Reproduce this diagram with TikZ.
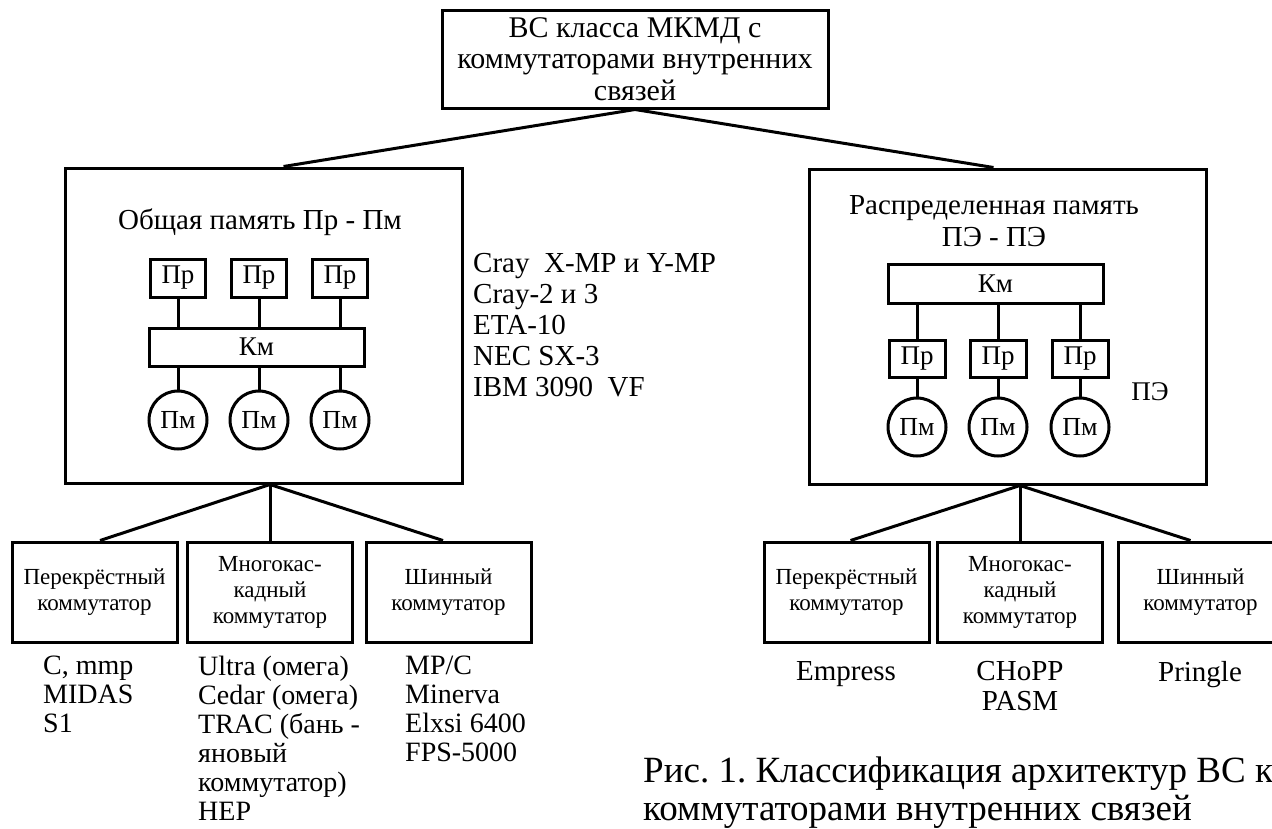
\documentclass[tikz,border=0pt]{standalone}
\usepackage{fontspec}
\setmainfont{Liberation Serif}
\frenchspacing
\begin{document}
\begin{tikzpicture}[x=1pt,y=-1pt,
  box/.style={draw, line width=3pt, inner sep=0pt, align=center},
  circ/.style={draw, circle, line width=3pt, inner sep=0pt, minimum size=58pt, font=\fontsize{26}{28}\selectfont},
  con/.style={line width=3pt},
  big/.style={font=\fontsize{30}{31.5}\selectfont},
  mid/.style={font=\fontsize{29}{32}\selectfont},
  inner/.style={font=\fontsize{27}{30}\selectfont},
  small/.style={font=\fontsize{23}{26}\selectfont},
  lst/.style={align=left, inner sep=0pt, anchor=north west, font=\fontsize{29}{31}\selectfont},
  lowlst/.style={align=left, inner sep=0pt, anchor=north west, font=\fontsize{28}{29}\selectfont},
  lstc/.style={align=center, inner sep=0pt, anchor=north, font=\fontsize{29}{30}\selectfont}
]
\useasboundingbox (0,0) rectangle (1272,828);

% top
\node[box, big, minimum width=386pt, minimum height=98pt] (top) at (635,59)
  {ВС класса МКМД с\\коммутаторами внутренних\\связей};

% main boxes
\node[box, minimum width=397pt, minimum height=315pt] (lbox) at (263.5,325.5) {};
\node[box, minimum width=397pt, minimum height=315pt] (rbox) at (1007.5,326.5) {};

\draw[con] (top.south) -- ([xshift=20pt]lbox.north);
\draw[con] (top.south) -- ([xshift=-14pt]rbox.north);

% left inside
\node[mid, inner sep=0pt] (ltitle) at (260,222) {Общая память Пр - Пм};
\node[box, inner, minimum width=215pt, minimum height=38pt] (lkm) at (256.5,347) {Км};
\foreach \i/\x in {1/178,2/259,3/340}{
  \node[box, inner, minimum width=55pt, minimum height=38pt] (lpr\i) at (\x,278) {Пр};
  \node[circ] (lpm\i) at (\x,420) {Пм};
  \draw[con] (lpr\i.south) -- (lpr\i.south |- lkm.north);
  \draw[con] (lpm\i.north) -- (lpm\i.north |- lkm.south);
}

% list
\node[lst] (cray) at (473,253) {Cray\ \ X-MP и Y-MP\\Cray-2 и 3\\ETA-10\\NEC SX-3\\IBM 3090\ \ VF};

% right inside
\node[mid, align=center, inner sep=0pt] (rtitle) at (994,221) {Распределенная память\\ПЭ - ПЭ};
\node[box, inner, minimum width=215pt, minimum height=39pt] (rkm) at (995.5,283.5) {Км};
\foreach \i/\x in {1/917,2/998,3/1080}{
  \node[box, inner, minimum width=56pt, minimum height=37pt] (rpr\i) at (\x,358.5) {Пр};
  \node[circ] (rpm\i) at (\x,427) {Пм};
  \draw[con] (rpr\i.north) -- (rpr\i.north |- rkm.south);
  \draw[con] (rpm\i.north) -- (rpr\i.south);
}
\node[inner, inner sep=0pt] (pe) at (1150,392) {ПЭ};

% left children
\node[box, small, minimum width=165pt, minimum height=100pt] (lc1) at (94.5,592) {Перекрёстный\\коммутатор};
\node[box, small, minimum width=165pt, minimum height=100pt] (lc2) at (270,592) {Многокас-\\кадный\\коммутатор};
\node[box, small, minimum width=165pt, minimum height=100pt] (lc3) at (448.5,592) {Шинный\\коммутатор};
\draw[con] (lc2.north) -- (lc2.north |- lbox.south);
\draw[con] (lc2.north |- lbox.south) -- ([xshift=5.5pt]lc1.north);
\draw[con] (lc2.north |- lbox.south) -- ([xshift=-5.5pt]lc3.north);

% right children
\node[box, small, minimum width=165pt, minimum height=100pt] (rc1) at (846.5,592) {Перекрёстный\\коммутатор};
\node[box, small, minimum width=165pt, minimum height=100pt] (rc2) at (1020,592) {Многокас-\\кадный\\коммутатор};
\node[box, small, minimum width=165pt, minimum height=100pt] (rc3) at (1200.5,592) {Шинный\\коммутатор};
\draw[con] (rc2.north) -- (rc2.north |- rbox.south);
\draw[con] (rc2.north |- rbox.south) -- ([xshift=4pt]rc1.north);
\draw[con] (rc2.north |- rbox.south) -- ([xshift=-10pt]rc3.north);

% labels below
\node[lowlst] (l1) at (43,656) {C, mmp\\MIDAS\\S1};
\node[lowlst] (l2) at (198,656) {Ultra (омега)\\Cedar (омега)\\TRAC (бань -\\яновый\\коммутатор)\\HEP};
\node[lowlst] (l3) at (405,656) {MP/C\\Minerva\\Elxsi 6400\\FPS-5000};
\node[lstc] (r1) at (846,661) {Empress};
\node[lstc] (r2) at (1020,661) {CHoPP\\PASM};
\node[lstc] (r3) at (1200,661) {Pringle};

% caption
\node[align=left, inner sep=0pt, anchor=north west, font=\fontsize{37}{37.5}\selectfont] (cap) at (643,757)
  {Рис. 1. Классификация архитектур ВС к\\коммутаторами внутренних связей};
\end{tikzpicture}
\end{document}
